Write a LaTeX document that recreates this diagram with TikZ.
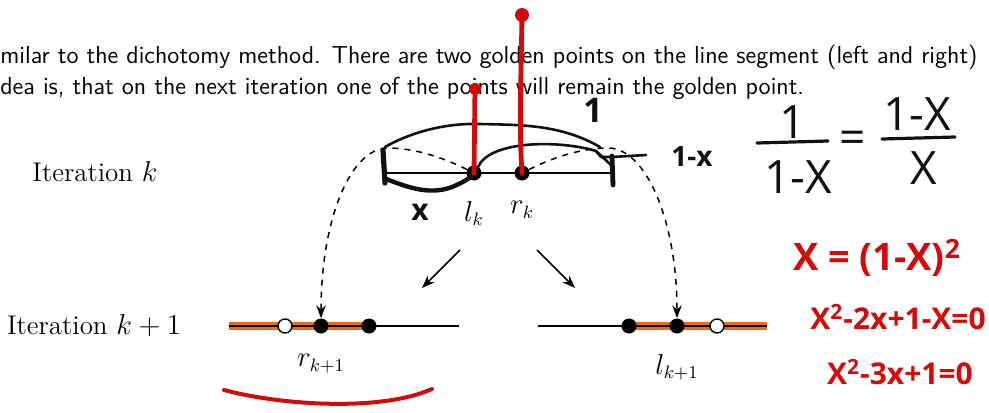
\documentclass[tikz,border=0pt]{standalone}
\usepackage{fontspec}
\usepackage{tikz}
\usetikzlibrary{arrows.meta,positioning}
\newfontfamily\handfont{Open Sans}
\definecolor{bandorange}{HTML}{F26A10}
\definecolor{penred}{HTML}{D40A0A}
\definecolor{penink}{HTML}{111111}

\begin{document}
\begin{tikzpicture}[
  x=0.5pt,y=-0.5pt,
  >=Stealth,
  gold/.style={circle,fill=black,inner sep=0pt,minimum size=7.5pt},
  hollow/.style={circle,draw=black,fill=white,line width=.7pt,inner sep=0pt,
    minimum size=7pt},
  seg/.style={line width=.75pt},
  band/.style={bandorange,line width=3.6pt},
  lab/.style={font=\fontsize{13.5}{16}\selectfont,inner sep=1pt},
  slide/.style={font=\sffamily\fontsize{12.3}{14}\selectfont,inner sep=0pt,
    anchor=west},
  jump/.style={->,dashed,line width=.75pt},
  pen/.style={penink,line width=1.3pt,line cap=round,line join=round},
  redpen/.style={penred,line width=2.4pt,line cap=round},
  reddot/.style={circle,fill=penred,inner sep=0pt,minimum size=#1},
  hand/.style={font=\handfont\fontsize{#1}{#1}\selectfont,inner sep=0pt},
  boldhand/.style={font=\handfont\bfseries\fontsize{#1}{#1}\selectfont,
    inner sep=0pt}
]
  \useasboundingbox (0,0) rectangle (989,412);

  % slide text
  \node[slide] (lineone) at (0,57)
    {milar to the dichotomy method. There are two golden points on the line segment (left and right)};
  \node[slide] (linetwo) at (0,88)
    {dea is, that on the next iteration one of the points will remain the golden point.};

  \node[lab] (itk) at (95,172) {Iteration $k$};
  \node[lab] (itknext) at (94,326) {Iteration $k+1$};

  % iteration k
  \coordinate (ka) at (383,173);
  \coordinate (kb) at (612,173);
  \draw[seg] (ka) -- (kb);
  \node[gold] (lk) at (474,173) {};
  \node[gold] (rk) at (522,173) {};
  \node[lab,below=9pt of lk] (lklab) {$l_k$};
  \node[lab,below=9pt of rk] (rklab) {$r_k$};

  % iteration k+1, left part
  \coordinate (aa) at (229,326);
  \coordinate (ab) at (459,326);
  \coordinate (pa) at (285,326);
  \coordinate (pb) at (321,326);
  \coordinate (pc) at (369,326);
  \draw[band] (aa) -- (pc);
  \draw[seg] (aa) -- (ab);
  \node[hollow] (oldl) at (pa) {};
  \node[gold] (rknext) at (pb) {};
  \node[gold] (newr) at (pc) {};
  \node[lab,below=9pt of rknext] (rknextlab) {$r_{k+1}$};

  % iteration k+1, right part
  \coordinate (ba) at (538,326);
  \coordinate (bb) at (767,326);
  \coordinate (qa) at (629,326);
  \coordinate (qb) at (677,326);
  \coordinate (qc) at (717,326);
  \draw[band] (qa) -- (bb);
  \draw[seg] (ba) -- (bb);
  \node[gold] (newl) at (qa) {};
  \node[gold] (lknext) at (qb) {};
  \node[hollow] (oldr) at (qc) {};
  \node[lab,below=9pt of lknext] (lknextlab) {$l_{k+1}$};

  % where the points go
  \draw[jump] (lk) .. controls (440,156) and (412,148) .. (388,148)
    .. controls (350,148) and (321,221) .. (rknext);
  \draw[jump] (rk) .. controls (556,156) and (584,148) .. (608,148)
    .. controls (646,148) and (677,221) .. (lknext);
  \coordinate (sl) at (460,250);
  \coordinate (el) at (422,288);
  \coordinate (sr) at (537,250);
  \coordinate (er) at (575,288);
  \draw[->,line width=.75pt] (sl) -- (el);
  \draw[->,line width=.75pt] (sr) -- (er);

  % black pen notes
  \draw[pen,line width=2.6pt] (383,150) -- (385,183);
  \draw[pen,line width=2.4pt] (612,156) -- (613,185);
  \draw[pen,line width=2.2pt] (386,179) .. controls (405,186) and (428,196)
    .. (452,187) .. controls (464,182) and (470,178) .. (474,174);
  \draw[pen] (385,147) .. controls (415,130) and (450,123) .. (480,124)
    .. controls (520,125) and (560,124) .. (600,147);
  \draw[pen] (478,167) .. controls (490,140) and (560,140) .. (596,151)
    -- (611,165);
  \draw[pen] (596,151) -- (601,157) -- (612,157) -- (646,155);
  \node[boldhand=15,penink] (xnote) at (420,212) {x};
  \node[boldhand=17,penink] (onenote) at (593,110) {1};
  \node[boldhand=14,penink] (omxnote) at (692,157) {1-x};

  \node[hand=23,penink] (fnum) at (793,122) {1};
  \draw[pen,line width=1.6pt] (757,143) -- (828,141);
  \node[hand=23,penink] (fden) at (798,177) {1-X};
  \node[hand=23,penink] (feq) at (853,142) {=};
  \node[hand=23,penink] (gnum) at (917,114) {1-X};
  \draw[pen,line width=1.6pt] (882,139) -- (955,137);
  \node[hand=23,penink] (gden) at (924,168) {X};

  % red pen notes
  \node[reddot=6pt] (topl) at (475,89) {};
  \node[reddot=7pt] (topr) at (522,15) {};
  \draw[redpen] (topl) -- (lk.center);
  \draw[redpen] (topr.center) .. controls (521,80) and (519,130) .. (rk.center);
  \draw[redpen,line width=2pt] (224,390) .. controls (280,405) and (380,412)
    .. (432,389);
  \node[boldhand=19,penred] (eqone) at (877,258) {X = (1-X)\textsuperscript{2}};
  \node[boldhand=15,penred] (eqtwo) at (898,317) {X\textsuperscript{2}-2x+1-X=0};
  \node[boldhand=15,penred] (eqthree) at (900,372) {X\textsuperscript{2}-3x+1=0};
\end{tikzpicture}
\end{document}
